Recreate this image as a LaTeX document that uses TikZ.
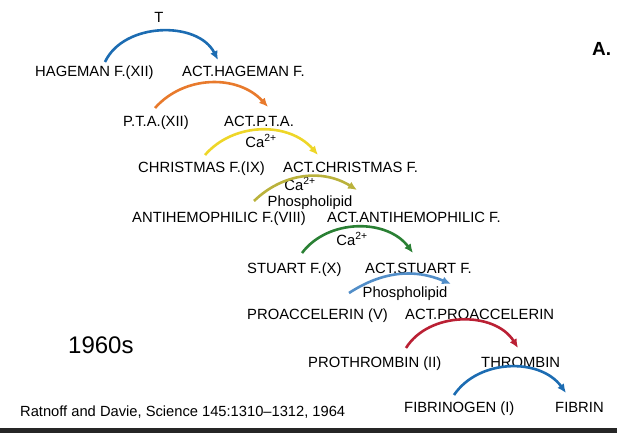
\documentclass[tikz,border=0pt]{standalone}
\usepackage{fontspec}
\setmainfont{Liberation Sans}
\usetikzlibrary{arrows.meta}

\definecolor{cascblue}{RGB}{28,108,178}
\definecolor{cascorange}{RGB}{232,122,44}
\definecolor{cascyellow}{RGB}{238,214,40}
\definecolor{cascolive}{RGB}{186,178,60}
\definecolor{cascgreen}{RGB}{42,128,52}
\definecolor{casclight}{RGB}{82,142,200}
\definecolor{cascred}{RGB}{186,32,52}

\begin{document}
\begin{tikzpicture}
[x=1pt,y=-1pt,
	 factor/.style={anchor=base west,inner sep=0pt,font=\fontsize{14.8}{16}\selectfont},
	 cofactor/.style={anchor=base,inner sep=0pt,font=\fontsize{14.8}{16}\selectfont},
	 cascade/.style={-{Latex[length=9pt,width=8pt]},line width=2.6pt}]
\useasboundingbox (0,0) rectangle (617,433);

% factors and activated factors
\node[factor] (hageman) at (35,77) {HAGEMAN F.(XII)};
\node[factor] (acthageman) at (182,77) {ACT.HAGEMAN F.};
\node[factor] (pta) at (123,126) {P.T.A.(XII)};
\node[factor] (actpta) at (224,126) {ACT.P.T.A.};
\node[factor] (christmas) at (138,172) {CHRISTMAS F.(IX)};
\node[factor] (actchristmas) at (283,172) {ACT.CHRISTMAS F.};
\node[factor] (antihem) at (132,222) {ANTIHEMOPHILIC F.(VIII)};
\node[factor] (actantihem) at (327,222) {ACT.ANTIHEMOPHILIC F.};
\node[factor] (stuart) at (247,273) {STUART F.(X)};
\node[factor] (actstuart) at (365,273) {ACT.STUART F.};
\node[factor] (proacc) at (247,319) {PROACCELERIN (V)};
\node[factor] (actproacc) at (405,319) {ACT.PROACCELERIN};
\node[factor] (prothrombin) at (308,367) {PROTHROMBIN (II)};
\node[factor] (thrombin) at (481,367) {THROMBIN};
\node[factor] (fibrinogen) at (404,412) {FIBRINOGEN (I)};
\node[factor] (fibrin) at (555,412) {FIBRIN};

% cofactors
\node[cofactor] (tlabel) at (159,23) {T};
\node[cofactor] (caone) at (261,147) {Ca\textsuperscript{2+}};
\node[cofactor] (catwo) at (300,190) {Ca\textsuperscript{2+}};
\node[cofactor] (phosone) at (310,206) {Phospholipid};
\node[cofactor] (cathree) at (352,245) {Ca\textsuperscript{2+}};
\node[cofactor] (phostwo) at (405,297) {Phospholipid};

% arc ends
\coordinate (s1) at (105,62);  \coordinate (e1) at (218,60);
\coordinate (s2) at (155,108); \coordinate (e2) at (268,107);
\coordinate (s3) at (205,155); \coordinate (e3) at (318,155);
\coordinate (s4) at (254,201); \coordinate (e4) at (357,190);
\coordinate (s5) at (302,253); \coordinate (e5) at (413,253);
\coordinate (s6) at (349,293); \coordinate (e6) at (451,284);
\coordinate (s7) at (406,348); \coordinate (e7) at (518,348);
\coordinate (s8) at (454,395); \coordinate (e8) at (566,393);

\draw[cascade,cascblue] (s1) to [bend left=64] (e1);
\draw[cascade,cascorange] (s2) to [bend left=48] (e2);
\draw[cascade,cascyellow] (s3) to [bend left=49] (e3);
\draw[cascade,cascolive] (s4) to [bend left=38] (e4);
\draw[cascade,cascgreen] (s5) to [bend left=53] (e5);
\draw[cascade,casclight] (s6) to [bend left=28] (e6);
\draw[cascade,cascred] (s7) to [bend left=58] (e7);
\draw[cascade,cascblue] (s8) to [bend left=55] (e8);

% titles
\node[anchor=base west,inner sep=0pt,font=\fontsize{24}{28}\selectfont] (decade) at (68,353) {1960s};
\node[anchor=base west,inner sep=0pt,font=\fontsize{14.7}{16}\selectfont] (source) at (20,416) {Ratnoff and Davie, Science 145:1310–1312, 1964};
\node[anchor=base west,inner sep=0pt,font=\fontsize{19}{21}\selectfont\bfseries] (panel) at (592,56) {A.};
\fill[black!85] (0,428) rectangle (617,433);

\end{tikzpicture}
\end{document}
